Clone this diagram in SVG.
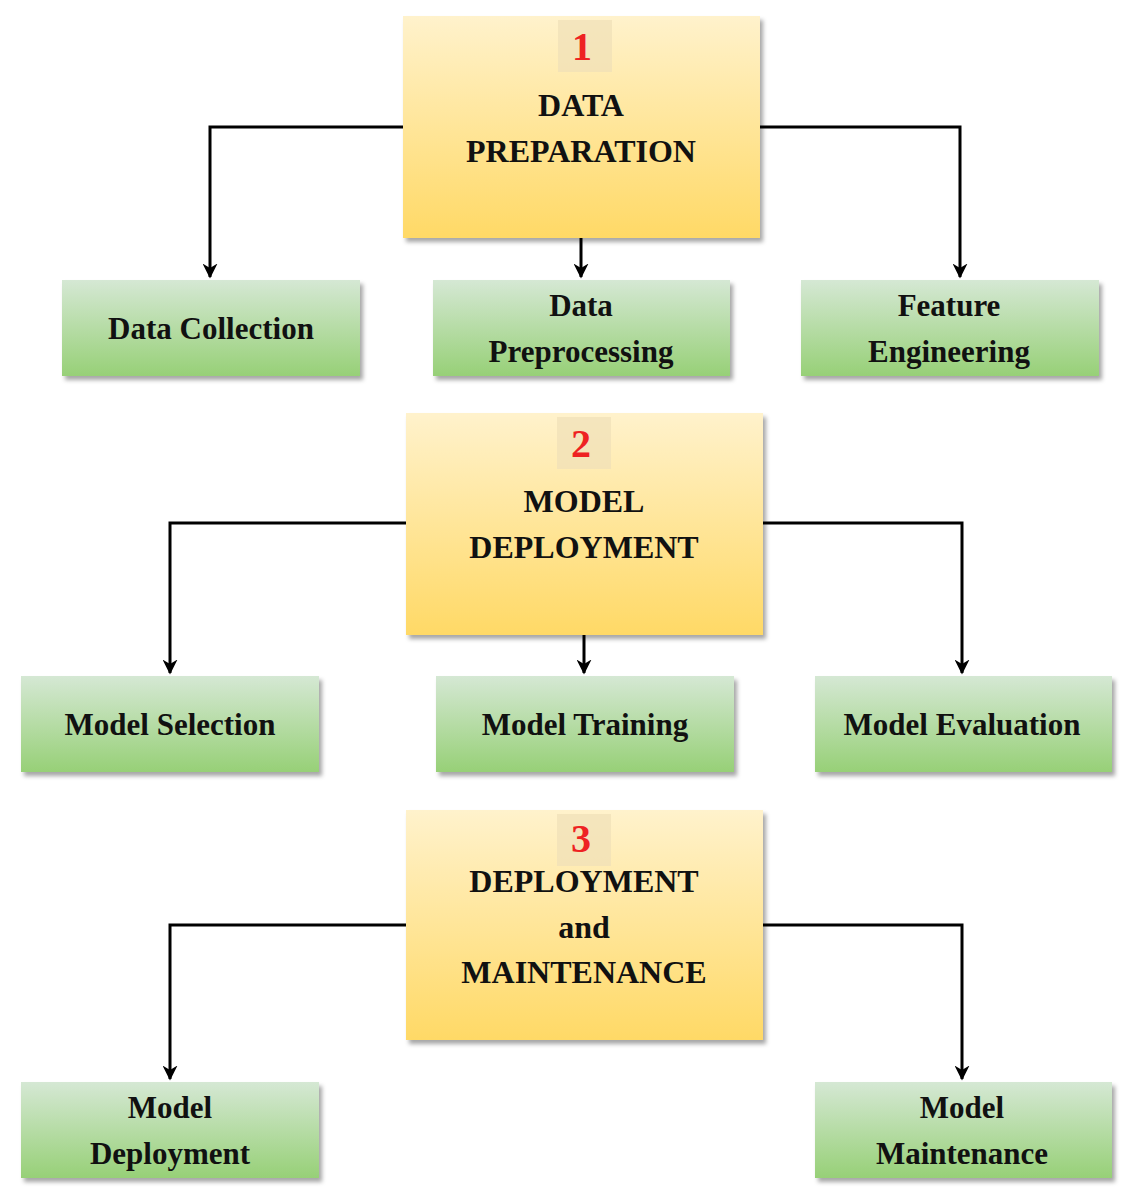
<svg xmlns="http://www.w3.org/2000/svg" width="1134" height="1200" viewBox="0 0 1134 1200">
<defs>
<linearGradient id="y" x1="0" y1="0" x2="0" y2="1"><stop offset="0" stop-color="#fff2cc"/><stop offset="1" stop-color="#ffd966"/></linearGradient>
<linearGradient id="g" x1="0" y1="0" x2="0" y2="1"><stop offset="0" stop-color="#d5e8d4"/><stop offset="1" stop-color="#97d077"/></linearGradient>
<marker id="a" viewBox="0 0 10 10" refX="9" refY="5" markerWidth="5" markerHeight="5" orient="auto"><path d="M0,0 L10,5 L0,10 L3,5 z" fill="#000"/></marker>
</defs>
<style>
.y{fill:url(#y);filter:drop-shadow(3px 4px 2px rgba(0,0,0,0.35))}
.g{fill:url(#g);filter:drop-shadow(3px 4px 2px rgba(0,0,0,0.35))}
.badge{fill:#f0e0b8;opacity:0.7}
text{font-family:"Liberation Serif",serif;font-weight:bold;text-anchor:middle;fill:#111}
.t{font-size:32px}
.s{font-size:31px}
.n{font-size:40px;fill:#ee2222}
.c{fill:none;stroke:#000;stroke-width:3;marker-end:url(#a)}
</style>
<g id="connectors">
<path class="c" d="M403,127 H210 V277"/>
<path class="c" d="M760,127 H960 V277"/>
<path class="c" d="M581,238 V277"/>
<path class="c" d="M406,523 H170 V673"/>
<path class="c" d="M763,523 H962 V673"/>
<path class="c" d="M584,635 V673"/>
<path class="c" d="M406,925 H170 V1079"/>
<path class="c" d="M763,925 H962 V1079"/>
</g>
<g id="n1"><rect class="y" x="403" y="16" width="357" height="222"/><rect class="badge" x="558" y="20" width="54" height="52"/><text class="n" x="582" y="60">1</text><text class="t" x="581" y="116">DATA</text><text class="t" x="581" y="162">PREPARATION</text></g>
<g id="n2"><rect class="y" x="406" y="413" width="357" height="222"/><rect class="badge" x="557" y="417" width="54" height="52"/><text class="n" x="581" y="457">2</text><text class="t" x="584" y="512">MODEL</text><text class="t" x="584" y="558">DEPLOYMENT</text></g>
<g id="n3"><rect class="y" x="406" y="810" width="357" height="230"/><rect class="badge" x="557" y="814" width="54" height="52"/><text class="n" x="581" y="852">3</text><text class="t" x="584" y="892">DEPLOYMENT</text><text class="t" x="584" y="938">and</text><text class="t" x="584" y="983">MAINTENANCE</text></g>
<g id="g1"><rect class="g" x="62" y="280" width="298" height="96"/><text class="s" x="211" y="339">Data Collection</text></g>
<g id="g2"><rect class="g" x="433" y="280" width="297" height="96"/><text class="s" x="581" y="316">Data</text><text class="s" x="581" y="362">Preprocessing</text></g>
<g id="g3"><rect class="g" x="801" y="280" width="298" height="96"/><text class="s" x="949" y="316">Feature</text><text class="s" x="949" y="362">Engineering</text></g>
<g id="g4"><rect class="g" x="21" y="676" width="298" height="96"/><text class="s" x="170" y="735">Model Selection</text></g>
<g id="g5"><rect class="g" x="436" y="676" width="298" height="96"/><text class="s" x="585" y="735">Model Training</text></g>
<g id="g6"><rect class="g" x="815" y="676" width="297" height="96"/><text class="s" x="962" y="735">Model Evaluation</text></g>
<g id="g7"><rect class="g" x="21" y="1082" width="298" height="96"/><text class="s" x="170" y="1118">Model</text><text class="s" x="170" y="1164">Deployment</text></g>
<g id="g8"><rect class="g" x="815" y="1082" width="297" height="96"/><text class="s" x="962" y="1118">Model</text><text class="s" x="962" y="1164">Maintenance</text></g>
</svg>
